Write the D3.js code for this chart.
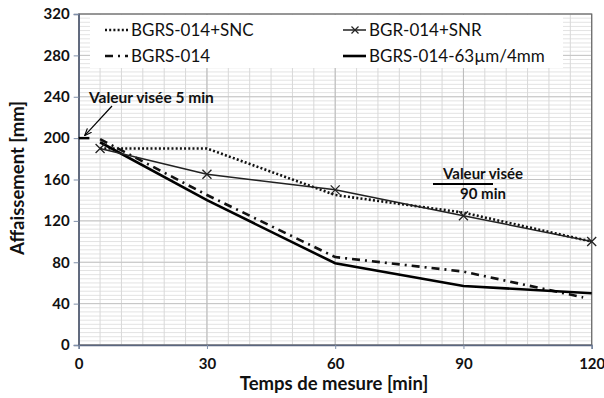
<!DOCTYPE html>
<html><head><meta charset="utf-8">
<script src="https://cdn.jsdelivr.net/npm/d3@7"></script>
<style>body{margin:0;background:#fff}svg{display:block}text{font-family:Lato,"Open Sans",sans-serif}</style>
</head><body><svg id="c" width="604" height="398"></svg>
<script>
const seriesNames = ["BGRS-014+SNC","BGR-014+SNR","BGRS-014","BGRS-014-63µm/4mm"];
const snc = [[5,190],[30,190],[60,145],[90,128],[120,100]];
const snr = [[5,190],[30,165],[60,150],[90,125],[120,100]];
const bgrs = [[5,199],[30,145],[60,85],[90,71],[118,46]];
const fine = [[5,196],[30,140],[60,79],[90,57],[120,50]];
const xTicks = [0,30,60,90,120];
const yTicks = [0,40,80,120,160,200,240,280,320];
const target5 = [[0,200],[2.5,200]];

const svg = d3.select("#c");
const x = d3.scaleLinear().domain([0,120]).range([78.7,591.7]);
const y = d3.scaleLinear().domain([0,320]).range([345,14]);

const g = svg.append("g");
g.selectAll(".hm").data(d3.range(0,321,4)).enter().append("line")
 .attr("x1",x(0)).attr("x2",x(120)).attr("y1",d=>y(d)).attr("y2",d=>y(d))
 .attr("stroke","#e3e3e3").attr("stroke-width",1);
g.selectAll(".vm").data(d3.range(0,121,5)).enter().append("line")
 .attr("y1",y(0)).attr("y2",y(320)).attr("x1",d=>x(d)).attr("x2",d=>x(d))
 .attr("stroke","#d8d8d8").attr("stroke-width",1);
g.selectAll(".hM").data(yTicks).enter().append("line")
 .attr("x1",x(0)).attr("x2",x(120)).attr("y1",d=>y(d)).attr("y2",d=>y(d))
 .attr("stroke","#c4c4c4").attr("stroke-width",1);
g.selectAll(".vM").data(xTicks).enter().append("line")
 .attr("y1",y(0)).attr("y2",y(320)).attr("x1",d=>x(d)).attr("x2",d=>x(d))
 .attr("stroke","#bcbcbc").attr("stroke-width",1);

svg.append("rect").attr("x",90).attr("y",15).attr("width",473).attr("height",53).attr("fill","#fff");

svg.append("rect").attr("x",x(0)).attr("y",y(320)).attr("width",x(120)-x(0)).attr("height",y(0)-y(320))
 .attr("fill","none").attr("stroke","#6a6a6a").attr("stroke-width",1.2);

const yAxis = d3.axisLeft(y).tickValues(yTicks).tickSize(5).tickPadding(4);
const ya = svg.append("g").attr("transform",`translate(${x(0)},0)`).call(yAxis);
ya.select(".domain").attr("stroke","#5a6680").attr("stroke-width",1.5);
ya.selectAll(".tick line").attr("stroke","#8090aa");
ya.selectAll("text").attr("font-size",15).attr("font-weight","bold").attr("fill","#111").attr("font-family","Lato,sans-serif");
const xAxis = d3.axisBottom(x).tickValues(xTicks).tickSize(4).tickPadding(9);
const xa = svg.append("g").attr("transform",`translate(0,${y(0)})`).call(xAxis);
xa.select(".domain").attr("stroke","#5a6680").attr("stroke-width",1.5);
xa.selectAll(".tick line").attr("stroke","#8090aa");
xa.selectAll("text").attr("font-size",15).attr("font-weight","bold").attr("fill","#111").attr("font-family","Lato,sans-serif");

svg.append("text").attr("x",334).attr("y",390).attr("text-anchor","middle")
 .attr("font-size",18.5).attr("font-weight","bold").attr("fill","#111").text("Temps de mesure [min]");
svg.append("text").attr("transform","translate(24,178) rotate(-90)").attr("text-anchor","middle")
 .attr("font-size",18.5).attr("font-weight","bold").attr("fill","#111").text("Affaissement [mm]");

const line = d3.line().x(d=>x(d[0])).y(d=>y(d[1]));
const styles = {
  snc:{w:2.6,dash:"2,2.2",c:"#111"},
  snr:{w:1.5,dash:null,c:"#222"},
  bgrs:{w:2.6,dash:"8,5,2,5",c:"#111"},
  fine:{w:2.6,dash:null,c:"#000"}
};
function draw(data,s){
  svg.append("path").datum(data).attr("d",line).attr("fill","none")
   .attr("stroke",s.c).attr("stroke-width",s.w).attr("stroke-dasharray",s.dash);
}
draw(snc,styles.snc);
draw(bgrs,styles.bgrs);
draw(fine,styles.fine);
draw(snr,styles.snr);
const m = 4.5;
svg.selectAll(".mk").data(snr).enter().append("path")
 .attr("d",d=>{const cx=x(d[0]),cy=y(d[1]);return `M${cx-m},${cy-m}L${cx+m},${cy+m}M${cx-m},${cy+m}L${cx+m},${cy-m}`;})
 .attr("stroke","#222").attr("stroke-width",1.3).attr("fill","none");

svg.append("path").datum(target5).attr("d",line).attr("stroke","#000").attr("stroke-width",2.5).attr("fill","none");
svg.append("defs").append("marker").attr("id","ah").attr("viewBox","0 0 10 10").attr("refX",9).attr("refY",5)
 .attr("markerWidth",6).attr("markerHeight",6).attr("orient","auto")
 .append("path").attr("d","M0,1L10,5L0,9").attr("fill","none").attr("stroke","#000").attr("stroke-width",1.6);
svg.append("line").attr("x1",112).attr("y1",106).attr("x2",x(1.5)).attr("y2",y(200)-3)
 .attr("stroke","#000").attr("stroke-width",1.2).attr("marker-end","url(#ah)");
svg.append("text").attr("x",89).attr("y",103).attr("font-size",15.5).attr("font-weight","bold").attr("fill","#111").text("Valeur visée 5 min");

svg.append("line").attr("x1",433).attr("x2",493).attr("y1",184).attr("y2",184).attr("stroke","#000").attr("stroke-width",2);
svg.append("text").attr("x",483).attr("y",179).attr("text-anchor","middle").attr("font-size",15).attr("font-weight","bold").attr("fill","#111").text("Valeur visée");
svg.append("text").attr("x",483).attr("y",199).attr("text-anchor","middle").attr("font-size",15).attr("font-weight","bold").attr("fill","#111").text("90 min");

const leg = [
 {n:seriesNames[0],s:styles.snc,x:105,y:30,mk:false},
 {n:seriesNames[2],s:styles.bgrs,x:105,y:56,mk:false},
 {n:seriesNames[1],s:styles.snr,x:343,y:30,mk:true},
 {n:seriesNames[3],s:styles.fine,x:343,y:56,mk:false}
];
leg.forEach(l=>{
  const lg = svg.append("g");
  lg.append("line").attr("x1",l.x).attr("x2",l.x+23).attr("y1",l.y).attr("y2",l.y)
   .attr("stroke",l.s.c).attr("stroke-width",l.s.w).attr("stroke-dasharray",l.s.dash);
  if(l.mk){const cx=l.x+12,cy=l.y,mm=3.5;
    lg.append("path").attr("d",`M${cx-mm},${cy-mm}L${cx+mm},${cy+mm}M${cx-mm},${cy+mm}L${cx+mm},${cy-mm}`).attr("stroke","#222").attr("stroke-width",1.2);}
  lg.append("text").attr("x",l.x+26).attr("y",l.y+6).attr("font-size",17).attr("fill","#111").text(l.n);
});
</script></body></html>
